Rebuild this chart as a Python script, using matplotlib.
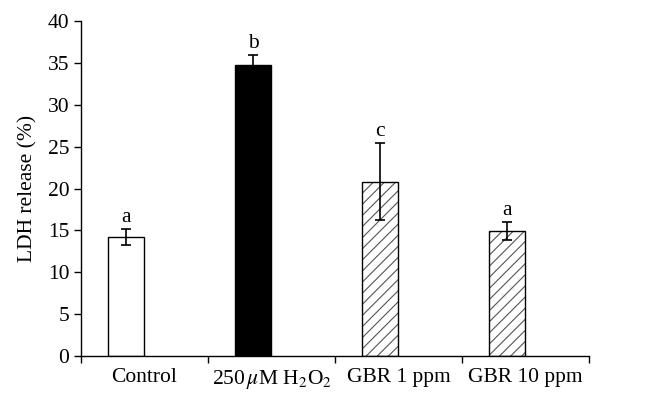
import numpy as np
import matplotlib
matplotlib.use("Agg")
import matplotlib.pyplot as plt

plt.rcParams['font.family'] = ['Liberation Serif', 'DejaVu Serif']
plt.rcParams['mathtext.fontset'] = 'stix'
plt.rcParams['hatch.linewidth'] = 0.8

# data
groups = ['Control', r'250$\,\mu$M H$_2$O$_2$', 'GBR 1 ppm', 'GBR 10 ppm']
ldh = [14.2, 34.8, 20.8, 14.9]
err = [1.0, 1.2, 4.6, 1.1]
letters = ['a', 'b', 'c', 'a']

fs = 15.5

fig = plt.figure(figsize=(6.46, 4.05), dpi=100)
ax = fig.add_axes([0.1254, 0.121, 0.7866, 0.827])

x = np.arange(len(groups))
xb = x - 0.146
w = 0.285

# face fills / hatching
faces = ['white', 'black', 'white', 'white']
hatches = ['', '', '///', '///']
for i in range(len(groups)):
    ax.bar(xb[i], ldh[i], w, color=faces[i], hatch=hatches[i],
           edgecolor='#555555', linewidth=0, zorder=2)
    ax.bar(xb[i], ldh[i], w, color='none', edgecolor='black',
           linewidth=1.0, zorder=3)

ax.errorbar(xb, ldh, yerr=err, fmt='none', ecolor='black',
            elinewidth=1.2, capsize=3.5, capthick=1.2, zorder=4)

for i in range(len(groups)):
    ax.annotate(letters[i], (xb[i], ldh[i] + err[i]), xytext=(0, 5),
                textcoords='offset points', ha='center', va='baseline',
                fontsize=fs)

ax.set_xlim(-0.5, 3.5)
ax.set_ylim(0, 40)
ax.set_yticks(np.arange(0, 41, 5))
ax.set_xticks(x)
ax.set_xticklabels(groups, fontsize=fs)
ax.set_xticks(np.arange(-0.5, 4, 1), minor=True)
ax.tick_params(axis='x', which='major', length=0, pad=9)
ax.tick_params(axis='x', which='minor', length=5, width=1, direction='out')
ax.tick_params(axis='y', labelsize=fs, length=5, width=1, direction='out')
ax.set_ylabel('LDH release (%)', fontsize=fs, labelpad=7)

for s in ['top', 'right']:
    ax.spines[s].set_visible(False)
for s in ['left', 'bottom']:
    ax.spines[s].set_linewidth(1.0)

fig.savefig('out.png', dpi=100)
